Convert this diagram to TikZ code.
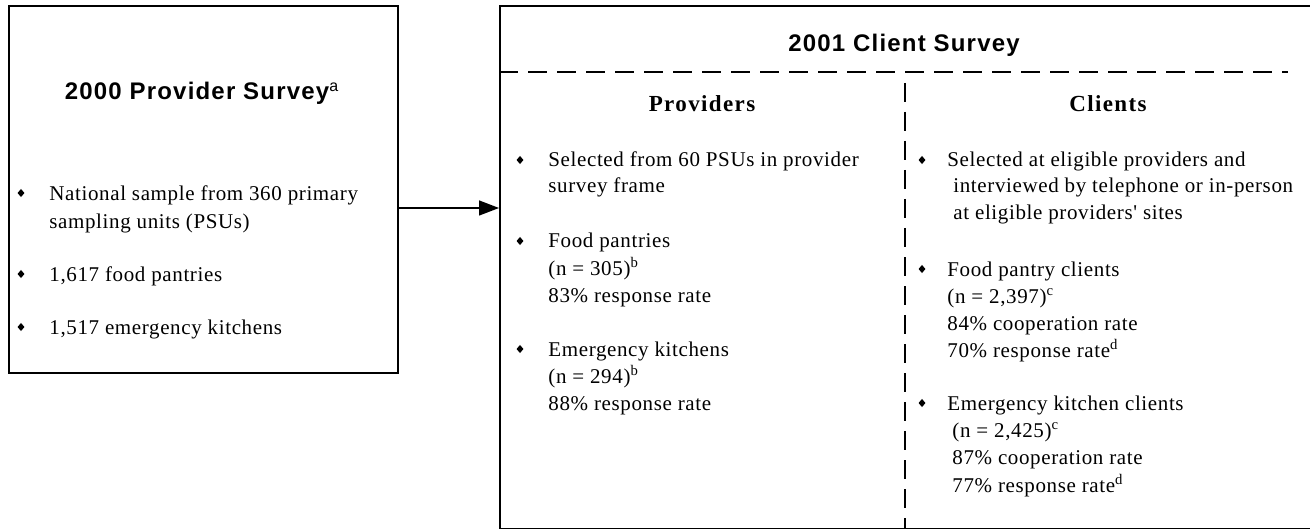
\documentclass[tikz,border=0pt]{standalone}
\usepackage{fontspec}
\setmainfont{Liberation Serif}
\newfontfamily\bodyfont[LetterSpace=3]{Liberation Serif}
\newfontfamily\colheadfont[LetterSpace=6]{Liberation Serif}
\newfontfamily\headfont[LetterSpace=5]{Liberation Sans}
\usetikzlibrary{arrows.meta,shapes.geometric}
\begin{document}
\begin{tikzpicture}[x=0.5pt,y=-0.5pt,
  frame/.style={draw, line width=1pt, inner sep=0pt, anchor=north west},
  sep/.style={line width=1pt, dash pattern=on 9.5pt off 5pt},
  txt/.style={anchor=base west, inner sep=0pt, font=\bodyfont\fontsize{10.5}{13.5}\selectfont},
  head/.style={anchor=base, inner sep=0pt, font=\headfont\bfseries\fontsize{12}{14}\selectfont},
  colhead/.style={anchor=base, inner sep=0pt, font=\colheadfont\bfseries\fontsize{11.5}{14}\selectfont},
  dot/.style={diamond, fill=black, inner sep=0pt, minimum width=3.6pt, minimum height=4.2pt},
  conn/.style={line width=0.7pt, -{Triangle[length=10pt,width=7.5pt]}}]
\useasboundingbox (0,0) rectangle (1310,529);
% boxes
\node[frame, minimum width=194.5pt, minimum height=183.5pt] (prov) at (8,5) {};
\node[frame, minimum width=407pt, minimum height=261.5pt] (client) at (499,5) {};
% arrow
\coordinate (ay) at (0,208);
\draw[conn] (prov.east |- ay) -- (client.west |- ay);
% left box text
\node[head] (h1) at (202,100) {2000 Provider Survey\textsuperscript{\mdseries a}};
\node[dot] (b1) at (21,193) {};
\node[txt] (l1) at (49,200) {National sample from 360 primary};
\node[txt] (l2) at (49,228) {sampling units (PSUs)};
\node[dot] (b2) at (21,274) {};
\node[txt] (l3) at (49,281) {1,617 food pantries};
\node[dot] (b3) at (21,327) {};
\node[txt] (l4) at (49,334) {1,517 emergency kitchens};
% right box
\node[head] (h2) at (904,52) {2001 Client Survey};
\coordinate (hl) at (1288,72);
\coordinate (vt) at (905,83);
\draw[sep] (client.west |- hl) -- (hl);
\draw[sep] (vt) -- (vt |- client.south);
% providers column
\node[colhead] (ph) at (702,112) {Providers};
\node[dot] (pb1) at (520,160) {};
\node[txt] (p1) at (548,167) {Selected from 60 PSUs in provider};
\node[txt] (p2) at (548,193) {survey frame};
\node[dot] (pb2) at (520,241) {};
\node[txt] (p3) at (548,248) {Food pantries};
\node[txt] (p4) at (548,275) {(n = 305)\textsuperscript{b}};
\node[txt] (p5) at (548,302) {83\% response rate};
\node[dot] (pb3) at (520,349) {};
\node[txt] (p6) at (548,356) {Emergency kitchens};
\node[txt] (p7) at (548,383) {(n = 294)\textsuperscript{b}};
\node[txt] (p8) at (548,410) {88\% response rate};
% clients column
\node[colhead] (ch) at (1108,112) {Clients};
\node[dot] (cb1) at (922,160) {};
\node[txt] (c1) at (947,167) {Selected at eligible providers and};
\node[txt] (c2) at (953,193) {interviewed by telephone or in-person};
\node[txt] (c3) at (953,220) {at eligible providers' sites};
\node[dot] (cb2) at (922,269) {};
\node[txt] (c4) at (947,276) {Food pantry clients};
\node[txt] (c5) at (947,303) {(n = 2,397)\textsuperscript{c}};
\node[txt] (c6) at (947,330) {84\% cooperation rate};
\node[txt] (c7) at (947,357) {70\% response rate\textsuperscript{d}};
\node[dot] (cb3) at (922,403) {};
\node[txt] (c8) at (947,410) {Emergency kitchen clients};
\node[txt] (c9) at (952,437) {(n = 2,425)\textsuperscript{c}};
\node[txt] (c10) at (952,464) {87\% cooperation rate};
\node[txt] (c11) at (952,492) {77\% response rate\textsuperscript{d}};
\end{tikzpicture}
\end{document}
